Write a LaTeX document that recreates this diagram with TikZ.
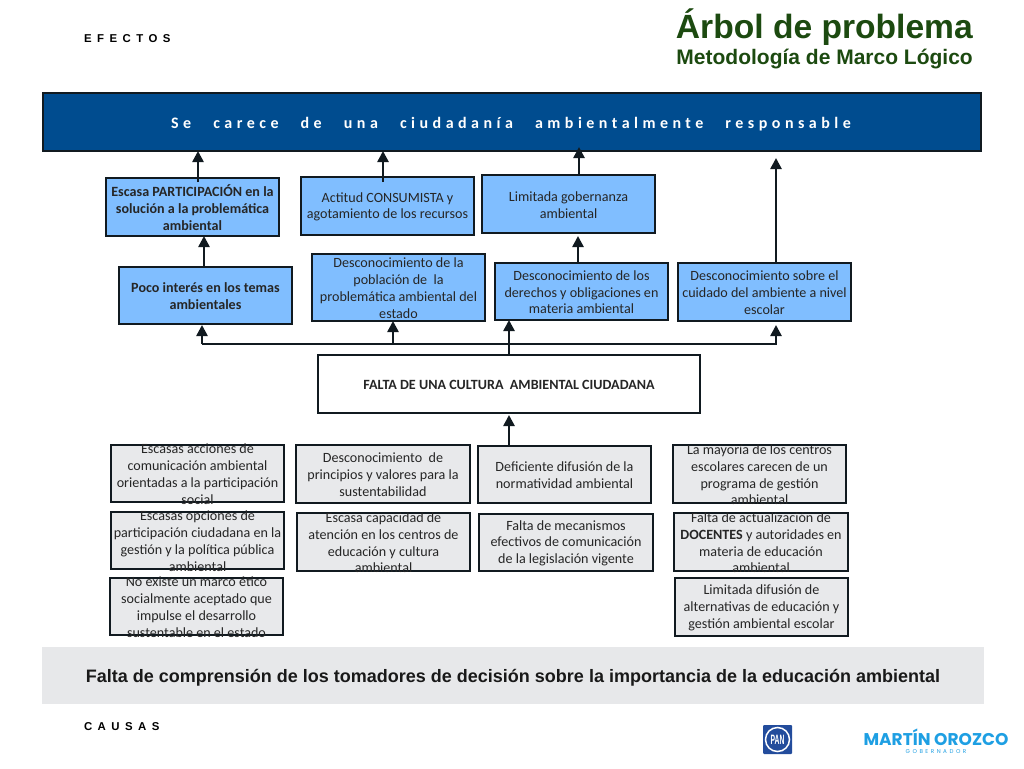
\documentclass[tikz,border=0pt]{standalone}
\usepackage{fontspec}
\usetikzlibrary{arrows.meta,calc}
\setmainfont{Carlito}
\newfontfamily\lib{Liberation Sans}
\newfontfamily\libsp[LetterSpace=48]{Liberation Sans}
\newfontfamily\carsp[LetterSpace=28]{Carlito}
\newfontfamily\pop{Poppins}
\newfontfamily\popsp[LetterSpace=45]{Poppins}
\definecolor{topblue}{HTML}{004C8F}
\definecolor{sky}{HTML}{80BEFF}
\definecolor{pale}{HTML}{E8E9EB}
\definecolor{band}{HTML}{E7E8EA}
\definecolor{ink}{HTML}{111A20}
\definecolor{titlegreen}{HTML}{1C4A10}
\definecolor{pan}{HTML}{234C9C}
\definecolor{mo}{HTML}{1E9FE3}
\tikzset{
  boxbase/.style={draw=ink,line width=1.7pt,inner sep=0pt,outer sep=0pt},
  skybox/.style={boxbase,fill=sky},
  palebox/.style={boxbase,fill=pale},
  whitebox/.style={boxbase,fill=white,line width=2.7pt},
  txt/.style={inner sep=0pt,outer sep=0pt,align=center,text=black!85,yshift=-0.8pt,font=\fontsize{14.1}{16.8}\selectfont},
  toptxt/.style={inner sep=0pt,outer sep=0pt,text=white,xshift=-1pt,yshift=-1.8pt,font=\carsp\bfseries\fontsize{16}{18}\selectfont},
  basetxt/.style={inner sep=0pt,outer sep=0pt,text=black!90,yshift=-2pt,font=\lib\bfseries\fontsize{18}{20}\selectfont},
  arr/.style={draw=ink,line width=2.5pt,-{Triangle[length=11pt,width=11pt]},shorten >=0pt},
  plain/.style={draw=ink,line width=2.5pt},
  side/.style={inner sep=0pt,outer sep=0pt,text=black,font=\libsp\bfseries\fontsize{11.4}{13}\selectfont}
}
\newcommand{\bx}[7]{%
  \pgfmathsetmacro{\bw}{#5-#3}\pgfmathsetmacro{\bh}{#6-#4}%
  \pgfmathsetmacro{\cxx}{(#3+#5)/2}\pgfmathsetmacro{\cyy}{(#4+#6)/2}%
  \node[#1,minimum width=\bw pt,minimum height=\bh pt,label={[txt]center:{#7}}] (#2) at (\cxx,\cyy) {};}
\begin{document}
\begin{tikzpicture}[x=1pt,y=-1pt]
\useasboundingbox (0,0) rectangle (1024,768);
\fill[white] (0,0) rectangle (1024,768);
% headings
\node[side,anchor=west] (efectos) at (84,39) {EFECTOS};
\node[side,anchor=west] (causas) at (84,727) {CAUSAS};
\node[inner sep=0pt,anchor=east,text=titlegreen,font=\lib\bfseries\fontsize{33.6}{36}\selectfont] (titulo) at (973,27) {Árbol de problema};
\node[inner sep=0pt,anchor=east,text=titlegreen,font=\lib\bfseries\fontsize{21}{24}\selectfont] (subtitulo) at (973,59.5) {Metodología de Marco Lógico};
% top band
\node[draw=ink,line width=1.2pt,fill=topblue,minimum width=938pt,minimum height=58pt,inner sep=0pt,outer sep=0pt,label={[toptxt]center:{Se\hspace{14pt} carece\hspace{14pt} de\hspace{14pt} una\hspace{14pt} ciudadanía\hspace{14pt} ambientalmente\hspace{14pt} responsable}}] (top) at (512,122) {};
% effects
\bx{skybox}{escasa}{106}{178}{279}{236}{\textbf{Escasa PARTICIPACIÓN en la}\\\textbf{solución a la problemática}\\\textbf{ambiental}}
\bx{skybox}{actitud}{301}{177}{474}{235}{Actitud CONSUMISTA y\\agotamiento de los recursos}
\bx{skybox}{gober}{482}{175}{655}{233}{Limitada gobernanza\\ambiental}
\bx{skybox}{poco}{119}{267}{292}{324}{\textbf{Poco interés en los temas}\\\textbf{ambientales}}
\bx{skybox}{pobl}{312}{254}{485}{321}{Desconocimiento de la\\población de\ \ la\\problemática ambiental del\\estado}
\bx{skybox}{derechos}{495}{263}{668}{320}{Desconocimiento de los\\derechos y obligaciones en\\materia ambiental}
\bx{skybox}{cuidado}{678}{263}{851}{321}{Desconocimiento sobre el\\cuidado del ambiente a nivel\\escolar}
\bx{whitebox}{falta}{318}{355}{700}{413}{\textbf{FALTA DE UNA CULTURA\ \ AMBIENTAL CIUDADANA}}
% causes
\bx{palebox}{bA}{111}{445}{284}{502}{Escasas acciones de\\comunicación ambiental\\orientadas a la participación\\social}
\bx{palebox}{bB}{296}{445}{470}{503}{Desconocimiento\ \ de\\principios y valores para la\\sustentabilidad}
\bx{palebox}{bC}{478}{446}{651}{503}{Deficiente difusión de la\\normatividad ambiental}
\bx{palebox}{bD}{673}{445}{846}{503}{La mayoría de los centros\\escolares carecen de un\\programa de gestión\\ambiental}
\bx{palebox}{cA}{111}{512}{284}{569}{Escasas opciones de\\participación ciudadana en la\\gestión y la política pública\\ambiental}
\bx{palebox}{cB}{297}{513}{470}{571}{Escasa capacidad de\\atención en los centros de\\educación y cultura\\ambiental}
\bx{palebox}{cC}{479}{514}{653}{571}{Falta de mecanismos\\efectivos de comunicación\\de la legislación vigente}
\bx{palebox}{cD}{674}{513}{848}{571}{Falta de actualización de\\\textbf{DOCENTES} y autoridades en\\materia de educación\\ambiental}
\bx{palebox}{dA}{110}{578}{283}{635}{No existe un marco ético\\socialmente aceptado que\\impulse el desarrollo\\sustentable en el estado}
\bx{palebox}{dD}{675}{578}{848}{636}{Limitada difusión de\\alternativas de educación y\\gestión ambiental escolar}
% bottom band
\node[fill=band,minimum width=942pt,minimum height=57pt,inner sep=0pt,outer sep=0pt,label={[basetxt]center:{Falta de comprensión de los tomadores de decisión sobre la importancia de la educación ambiental}}] (base) at (513,675.5) {};
% helper columns and points
\coordinate (xa) at (198,0);
\coordinate (xb) at (383,0);
\coordinate (xc) at (579,0);
\coordinate (xd) at (776,0);
\coordinate (xe) at (204,0);
\coordinate (xf) at (578,0);
\coordinate (xg) at (202,0);
\coordinate (xh) at (393,0);
\coordinate (xi) at (509,0);
\coordinate (bus) at (0,344);
\coordinate (ta) at (0,151);
\coordinate (tb) at (0,147);
\coordinate (tc) at (0,158);
% effect arrows
\draw[arr] ([yshift=-4pt]xa |- escasa.north) -- (xa |- ta);
\draw[arr] ([yshift=-5pt]xb |- actitud.north) -- (xb |- ta);
\draw[arr] (xc |- gober.north) -- (xc |- tb);
\draw[arr] (xd |- cuidado.north) -- (xd |- tc);
\draw[arr] (xe |- poco.north) -- (xe |- escasa.south);
\draw[arr] (xf |- derechos.north) -- ([yshift=-3pt]xf |- gober.south);
% bus
\draw[plain] (xi |- falta.north) -- (xi |- bus);
\draw[arr] (xi |- bus) -- (xi |- derechos.south);
\draw[arr] (xh |- bus) -- (xh |- pobl.south);
\draw[arr] (xg |- bus) -- ([yshift=-1pt]xg |- poco.south);
\draw[arr] (xg |- bus) -- (xd |- bus) -- ([yshift=-4pt]xd |- cuidado.south);
% cause arrow
\draw[arr] (xi |- bC.north) -- ([yshift=-2pt]xi |- falta.south);
% logos
\node[fill=pan,rounded corners=1pt,minimum size=29pt,inner sep=0pt,outer sep=0pt] (panbox) at (777.5,739.5) {};
\node[circle,draw=white,line width=1.5pt,minimum size=24pt,inner sep=0pt] (panring) at (panbox.center) {};
\node[inner sep=0pt,text=white,font=\lib\bfseries\fontsize{8.5}{9}\selectfont,xscale=.8,yscale=1.6] (pantext) at (panbox.center) {PAN};
\node[inner sep=0pt,text=mo,font=\pop\bfseries\fontsize{17}{18}\selectfont] (martin) at (936,737) {MARTÍN OROZCO};
\node[inner sep=0pt,text=mo,font=\popsp\fontsize{5.6}{6}\selectfont] (gob) at (936,752) {GOBERNADOR};
\end{tikzpicture}
\end{document}
